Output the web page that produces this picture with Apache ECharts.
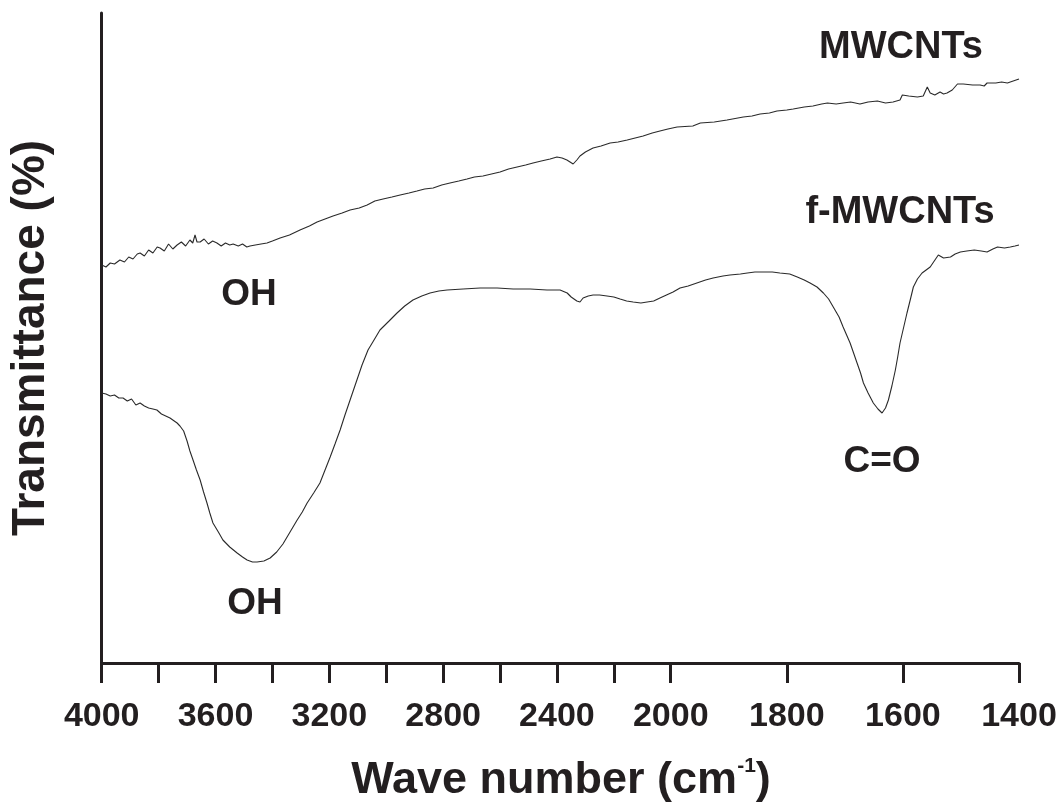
<!DOCTYPE html>
<html>
<head>
<meta charset="utf-8">
<script src="https://cdn.jsdelivr.net/npm/echarts@6/dist/echarts.min.js"></script>
<style>html,body{margin:0;padding:0;background:#fff;}#c{width:1060px;height:805px;}</style>
</head>
<body>
<div id="c"></div>
<script>
// Wavenumbers (cm-1) and transmittance (arbitrary units)
var mwWave = [4000,3985,3970,3955,3936,3920,3905,3890,3875,3865,3850,3835,3820,3805,3795,3780,3765,3750,3735,3720,3705,3690,3680,3672,3665,3654,3640,3625,3610,3595,3580,3565,3550,3538,3520,3505,3490,3479,3460,3440,3419,3400,3373,3340,3303,3270,3243,3215,3187,3155,3127,3095,3067,3040,3011,2980,2951,2920,2892,2865,2835,2805,2776,2745,2716,2690,2660,2630,2600,2570,2540,2510,2484,2455,2424,2400,2382,2365,2354,2343,2330,2319,2300,2273,2245,2213,2185,2153,2125,2097,2065,2038,2010,1989,1962,1949,1925,1903,1875,1860,1846,1830,1817,1800,1789,1770,1755,1740,1730,1715,1703,1690,1674,1660,1644,1630,1617,1605,1601,1590,1575,1565,1558,1553,1545,1536,1530,1524,1515,1506,1496,1480,1467,1460,1455,1440,1430,1420,1410,1400];
var mwT = [398,396,400,399,403,401,406,404,409,410,407,413,410,416,415,412,419,414,418,421,417,423,420,428,421,421,424,419,422,420,417,420,418,419,417,419,416,417,418,419,420,422,425,428,433,437,441,444,447,450,453,455,458,462,464,466,468,470,472,474,475,478,480,482,484,486,487,489,491,494,496,498,500,502,504,506,505,503,501,499,503,507,511,515,517,520,521,523,525,527,530,532,534,536,537,540,541,543,546,547,549,550,552,553,554,556,557,559,560,559,560,561,559,561,562,560,561,563,568,567,566,567,576,570,568,571,569,570,573,579,579,578,578,577,580,580,581,580,582,584];

var fmWave = [4000,3985,3970,3955,3940,3925,3910,3895,3880,3865,3850,3835,3820,3806,3790,3775,3760,3745,3735,3725,3712,3700,3690,3679,3667,3654,3642,3630,3620,3609,3590,3574,3550,3524,3505,3489,3470,3454,3430,3408,3385,3363,3338,3313,3295,3278,3255,3233,3215,3197,3180,3162,3145,3127,3115,3103,3085,3064,3045,3022,2990,2962,2935,2906,2875,2846,2815,2786,2730,2670,2610,2554,2494,2435,2389,2364,2350,2343,2330,2319,2308,2290,2273,2250,2224,2200,2178,2155,2132,2105,2083,2060,2038,2015,1996,1984,1970,1955,1940,1927,1910,1898,1880,1868,1855,1841,1825,1812,1795,1782,1770,1760,1748,1737,1728,1720,1710,1703,1697,1691,1685,1679,1673,1668,1660,1651,1643,1636,1630,1625,1619,1613,1609,1605,1599,1593,1587,1582,1575,1567,1560,1553,1546,1539,1530,1518,1510,1501,1490,1477,1465,1455,1445,1437,1425,1415,1407,1400];
var fmT = [270,269,267,268,265,265,262,264,258,260,257,255,254,253,249,247,245,242,240,237,232,222,212,203,193,183,171,160,150,140,131,123,116,110,106,103,101,101,102,105,111,119,131,143,151,160,170,180,193,206,219,233,248,263,273,283,298,313,322,333,342,350,357,363,367,370,372,373,374,375,375,374,374,373,373,370,366,365,362,361,365,367,368,368,367,366,364,362,361,360,361,362,365,368,371,375,377,380,383,385,387,388,389,390,391,391,391,390,389,386,383,380,376,370,364,356,346,336,328,320,310,300,290,280,270,260,254,250,255,263,277,293,306,320,335,350,364,376,384,390,393,396,402,408,405,406,409,411,412,413,412,411,414,416,415,416,417,418];

var tickWaves = [4000,3800,3600,3400,3200,3000,2800,2600,2400,2200,2000,1800,1600,1400];
var labelWaves = [4000,3600,3200,2800,2400,2000,1800,1600,1400];

// Broken (two-scale) axis: below 2000 cm-1 the scale is stretched
var K = 2.04;
function toU(w){ return w >= 2000 ? 4000 - w : 2000 + K * (2000 - w); }
function fromU(u){ return u <= 2000 ? 4000 - u : 2000 - (u - 2000) / K; }
function pairs(ws, ts){ return ws.map(function(w, i){ return [toU(w), ts[i]]; }); }

var FONT = "'Liberation Sans', Arial, Helvetica, sans-serif";
var INK = '#231f20';

var chart = echarts.init(document.getElementById('c'), null, {renderer: 'canvas'});
chart.setOption({
  animation: false,
  backgroundColor: '#ffffff',
  grid: {left: 101.7, right: 41, top: 13, bottom: 142, containLabel: false},
  xAxis: {
    type: 'value', min: toU(4000), max: toU(1400),
    axisLine: {show: true, lineStyle: {color: INK, width: 3}},
    axisTick: {show: true, length: 20, inside: false, customValues: tickWaves.map(toU), lineStyle: {color: INK, width: 3}},
    axisLabel: {show: true, customValues: labelWaves.map(toU), margin: 37,
      formatter: function(v){ return String(Math.round(fromU(v) / 100) * 100); },
      color: INK, fontFamily: FONT, fontWeight: 'bold', fontSize: 34},
    splitLine: {show: false}
  },
  yAxis: {
    type: 'value', min: 0, max: 650,
    axisLine: {show: true, lineStyle: {color: INK, width: 3}},
    axisTick: {show: false}, axisLabel: {show: false}, splitLine: {show: false}
  },
  series: [
    {name: 'MWCNTs', type: 'line', data: pairs(mwWave, mwT), showSymbol: false, symbol: 'none',
     lineStyle: {color: '#2a2a2a', width: 1.1}},
    {name: 'f-MWCNTs', type: 'line', data: pairs(fmWave, fmT), showSymbol: false, symbol: 'none',
     lineStyle: {color: '#2a2a2a', width: 1.1}}
  ],
  graphic: [
    {type: 'text', x: 901, y: 48, style: {text: 'MWCNTs', font: 'bold 38px ' + FONT, fill: INK, textAlign: 'center', textVerticalAlign: 'middle'}},
    {type: 'text', x: 900, y: 213, style: {text: 'f-MWCNTs', font: 'bold 38px ' + FONT, fill: INK, textAlign: 'center', textVerticalAlign: 'middle'}},
    {type: 'text', x: 249, y: 295, style: {text: 'OH', font: 'bold 37px ' + FONT, fill: INK, textAlign: 'center', textVerticalAlign: 'middle'}},
    {type: 'text', x: 255, y: 604, style: {text: 'OH', font: 'bold 37px ' + FONT, fill: INK, textAlign: 'center', textVerticalAlign: 'middle'}},
    {type: 'text', x: 882, y: 462, style: {text: 'C=O', font: 'bold 37px ' + FONT, fill: INK, textAlign: 'center', textVerticalAlign: 'middle'}},
    {type: 'text', x: 31, y: 338, rotation: Math.PI / 2,
     style: {text: 'Transmittance (%)', font: 'bold 46px ' + FONT, fill: INK, textAlign: 'center', textVerticalAlign: 'middle'}},
    {type: 'text', x: 561, y: 781,
     style: {text: '{a|Wave number (cm}{s|-1}{a|)}', fill: INK, textAlign: 'center', textVerticalAlign: 'middle',
       rich: {a: {fontFamily: FONT, fontWeight: 'bold', fontSize: 45, fill: INK, lineHeight: 50},
              s: {fontFamily: FONT, fontWeight: 'bold', fontSize: 21, fill: INK, verticalAlign: 'top', lineHeight: 40}}}}
  ]
});
</script>
</body>
</html>
